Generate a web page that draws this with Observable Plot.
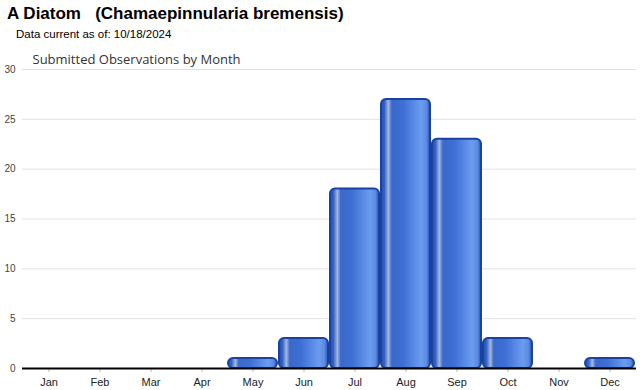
<!DOCTYPE html>
<html>
<head>
<meta charset="utf-8">
<script src="https://cdn.jsdelivr.net/npm/d3@7"></script>
<script src="https://cdn.jsdelivr.net/npm/@observablehq/plot@0.6"></script>
<style>
  body { margin: 0; background: #fff; font-family: "Liberation Sans", Arial, sans-serif; }
  #wrap { width: 640px; }
  h1 { margin: 0; padding: 4px 0 0 7px; height: 20px; line-height: 20px; font-size: 17px; font-weight: bold; color: #000; white-space: pre; }
  .sub { margin: 0; padding: 3px 0 0 16px; height: 18px; line-height: 14px; font-size: 11.5px; color: #000; }
  #chart svg { display: block; }
</style>
</head>
<body>
<div id="wrap">
  <h1>A Diatom   (Chamaepinnularia bremensis)</h1>
  <div class="sub">Data current as of: 10/18/2024</div>
  <div id="chart"></div>
</div>
<script>
const months = ["Jan","Feb","Mar","Apr","May","Jun","Jul","Aug","Sep","Oct","Nov","Dec"];
const counts = [0, 0, 0, 0, 1, 3, 18, 27, 23, 3, 0, 1];
const yTicks = [0, 5, 10, 15, 20, 25, 30];
const chartTitle = "Submitted Observations by Month";

const data = months.map((m, i) => ({month: m, count: counts[i]}));

const defs = () => {
  const g = d3.create("svg:defs");
  const lg = g.append("linearGradient").attr("id", "barGrad").attr("x1", "0").attr("x2", "1").attr("y1", "0").attr("y2", "0");
  [[0, "#2450b0"], [0.07, "#3561c2"], [0.15, "#a3b8e2"], [0.22, "#3b68c9"], [0.45, "#3d6fd5"], [0.82, "#6c9cf0"], [0.93, "#5b8ae2"], [1, "#2450b0"]]
    .forEach(([o, c]) => lg.append("stop").attr("offset", o).attr("stop-color", c));
  return g.node();
};

const chart = Plot.plot({
  width: 640,
  height: 345,
  marginLeft: 22,
  marginRight: 4,
  marginTop: 24,
  marginBottom: 22,
  style: {fontFamily: "'Liberation Sans', Arial, sans-serif", fontSize: "11px", color: "#333", background: "#fff"},
  x: {domain: months, padding: 0, label: null},
  y: {domain: [0, 30], ticks: yTicks, label: null},
  marks: [
    defs,
    Plot.gridY(yTicks.filter(d => d > 0), {stroke: "#e2e2e2", strokeOpacity: 1, strokeWidth: 1}),
    Plot.axisY(yTicks, {tickSize: 0, tickPadding: 7, fontSize: 10, fill: "#444", label: null}),
    Plot.axisX({tickSize: 4, stroke: "#bbb", tickPadding: 6, fontSize: 11, fill: "#222", label: null}),
    Plot.barY(data.filter(d => d.count > 0), {x: "month", y: "count", fill: "url(#barGrad)", stroke: "#1a42a0", strokeWidth: 2, rx: 5, insetLeft: 1, insetRight: 1}),
    Plot.ruleY([0], {stroke: "#000", strokeWidth: 2}),
    Plot.text([chartTitle], {frameAnchor: "top-left", dx: 10, dy: -15, text: d => d, fontSize: 13, fill: "#333", fontFamily: "'Open Sans', 'DejaVu Sans', sans-serif", textAnchor: "start", lineAnchor: "top"})
  ]
});
document.getElementById("chart").appendChild(chart);
</script>
</body>
</html>
